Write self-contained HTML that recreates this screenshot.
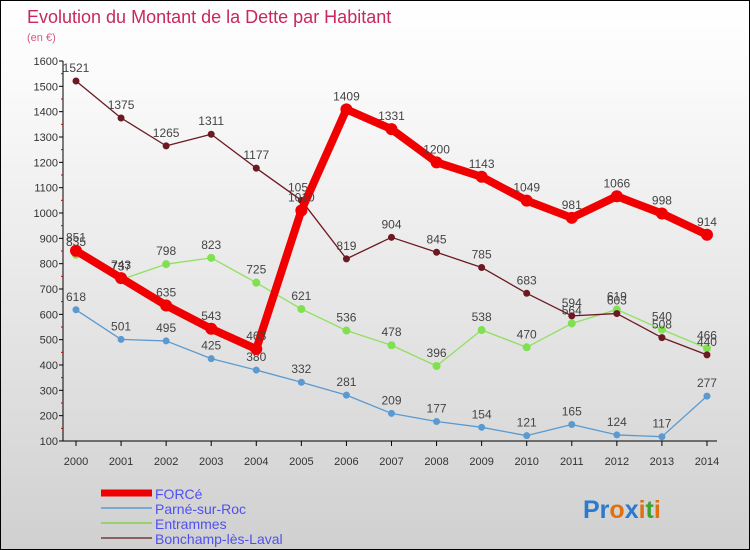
<!DOCTYPE html>
<html><head><meta charset="utf-8"><style>
body{margin:0}
#c{width:748px;height:548px;border:1px solid #000;background:linear-gradient(#fff,#fafafa 15%,#e4e4e4 60%,#d0d0d0);position:relative;font-family:"Liberation Sans",sans-serif;overflow:hidden}
svg text{font-family:"Liberation Sans",sans-serif}
</style></head><body>
<div id="c">
<svg id="s" width="748" height="548">
<text x="26" y="22" font-size="18" fill="#c8285a">Evolution du Montant de la Dette par Habitant</text>
<text x="26" y="40" font-size="11" fill="#d85a80">(en €)</text>
<g id="axes"></g><g id="series"></g><g id="legend"></g>
<text x="582" y="517" font-size="25" font-weight="bold"><tspan fill="#2a7ad0">Pr</tspan><tspan fill="#e07010">o</tspan><tspan fill="#2a7ad0">x</tspan><tspan fill="#e07010">i</tspan><tspan fill="#40a030">t</tspan><tspan fill="#e07010">i</tspan></text>
</svg></div>
<script>
const years=[2000,2001,2002,2003,2004,2005,2006,2007,2008,2009,2010,2011,2012,2013,2014];
const yTicks=[100,200,300,400,500,600,700,800,900,1000,1100,1200,1300,1400,1500,1600];
const forceVals=[851,743,635,543,463,1010,1409,1331,1200,1143,1049,981,1066,998,914];
const parneVals=[618,501,495,425,380,332,281,209,177,154,121,165,124,117,277];
const entrammesVals=[835,737,798,823,725,621,536,478,396,538,470,564,619,540,466];
const bonchampVals=[1521,1375,1265,1311,1177,1050,819,904,845,785,683,594,603,508,440];
const NS="http://www.w3.org/2000/svg";
const X=i=>75+i*45.07, Y=v=>440-(v-100)*380/1500;
function mk(t,a,p){const e=document.createElementNS(NS,t);for(const k in a)e.setAttribute(k,a[k]);p.appendChild(e);return e;}
const ax=document.getElementById('axes');
const yl=mk('line',{x1:62,y1:60,x2:62,y2:440,stroke:'#000'},ax);


yTicks.forEach(v=>{
 mk('line',{x1:58,y1:Y(v),x2:62,y2:Y(v),stroke:'#000'},ax);
 if(v<1600) mk('line',{x1:60,y1:Y(v+50),x2:62,y2:Y(v+50),stroke:'#c00'},ax);
 const t=mk('text',{x:57,y:Y(v)+4,'font-size':11,fill:'#333','text-anchor':'end'},ax);t.textContent=v;
 
 
});
const xl=mk('line',{x1:62,y1:440,x2:716,y2:440,stroke:'#000'},ax);


years.forEach((y,i)=>{
 mk('line',{x1:X(i),y1:440,x2:X(i),y2:445,stroke:'#000'},ax);
 const t=mk('text',{x:X(i),y:464,'font-size':11,fill:'#333','text-anchor':'middle'},ax);t.textContent=y;
 
 
});
const sg=document.getElementById('series');
function series(vals,color,dot,w,r,name){
 const g=mk('g',{},sg);
 
 
 const p=mk('polyline',{points:vals.map((v,i)=>X(i)+','+Y(v)).join(' '),fill:'none',stroke:color,'stroke-width':w,'stroke-linejoin':'round'},g);
 
 
 vals.forEach((v,i)=>{
  const c=mk('circle',{cx:X(i),cy:Y(v),r:r,fill:dot},g);
  
  
  const t=mk('text',{x:X(i),y:Y(v)-9,'font-size':12,fill:'#444','text-anchor':'middle'},g);t.textContent=v;
  
  
 });
}
series(parneVals,'#5a9ad0','#5a9ad0',1.3,3.5,'parne');
series(entrammesVals,'#90e060','#80e050',1.3,4,'entrammes');
series(bonchampVals,'#6a1a20','#6a1a20',1.3,3.5,'bonchamp');
series(forceVals,'#f00000','#f00000',8,6,'force');
const lg=document.getElementById('legend');
[['FORCé','#f00000',7],['Parné-sur-Roc','#7aaad0',2],['Entrammes','#9ad070',2],['Bonchamp-lès-Laval','#8a6060',2]].forEach((d,i)=>{
 const y=492+i*15;
 const l=mk('line',{x1:100,y1:y,x2:151,y2:y,stroke:d[1],'stroke-width':d[2]},lg);
 
 
 const t=mk('text',{x:154,y:y+6,'font-size':14,fill:'#5050f0'},lg);t.textContent=d[0];
 
 
});
</script>
</body></html>
